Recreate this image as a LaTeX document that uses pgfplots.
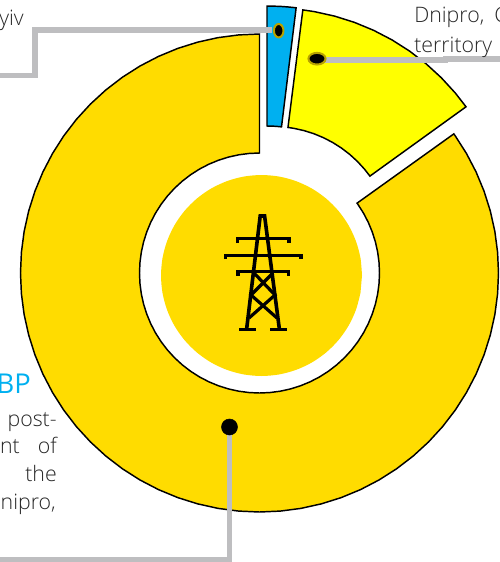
\documentclass[border=0pt]{standalone}
\usepackage{pgfplots}
\usepackage{pgfplotstable}
\usepackage{fontspec}
\setmainfont{Open Sans Light}
\newfontfamily\regfont{Open Sans}
\pgfplotsset{compat=1.18}
\definecolor{gold}{HTML}{FFDC00}
\definecolor{sky}{HTML}{00B0F0}
\definecolor{yel}{HTML}{FFFF00}
\definecolor{lead}{HTML}{BEBEC0}
\definecolor{ring}{HTML}{B8A200}
\definecolor{txt}{HTML}{262626}
\pgfplotstableread[row sep=\\]{a r\\
90 239\\ 95 239\\ 100 239\\ 105 239\\ 110 239\\ 115 239\\ 120 239\\ 125 239\\ 130 239\\ 135 239\\ 140 239\\ 145 239\\ 150 239\\ 155 239\\ 160 239\\ 165 239\\ 170 239\\ 175 239\\ 180 239\\ 185 239\\ 190 239\\ 195 239\\ 200 239\\ 205 239\\ 210 239\\ 215 239\\ 220 239\\ 225 239\\ 230 239\\ 235 239\\ 240 239\\ 245 239\\ 250 239\\ 255 239\\ 260 239\\ 265 239\\ 270 239\\ 275 239\\ 280 239\\ 285 239\\ 290 239\\ 295 239\\ 300 239\\ 305 239\\ 310 239\\ 315 239\\ 320 239\\ 325 239\\ 330 239\\ 335 239\\ 340 239\\ 345 239\\ 350 239\\ 355 239\\ 360 239\\ 365 239\\ 370 239\\ 375 239\\ 380 239\\ 385 239\\ 390 239\\ 395 239\\ 395.6 239\\
395.6 120\\ 395 120\\ 390 120\\ 385 120\\ 380 120\\ 375 120\\ 370 120\\ 365 120\\ 360 120\\ 355 120\\ 350 120\\ 345 120\\ 340 120\\ 335 120\\ 330 120\\ 325 120\\ 320 120\\ 315 120\\ 310 120\\ 305 120\\ 300 120\\ 295 120\\ 290 120\\ 285 120\\ 280 120\\ 275 120\\ 270 120\\ 265 120\\ 260 120\\ 255 120\\ 250 120\\ 245 120\\ 240 120\\ 235 120\\ 230 120\\ 225 120\\ 220 120\\ 215 120\\ 210 120\\ 205 120\\ 200 120\\ 195 120\\ 190 120\\ 185 120\\ 180 120\\ 175 120\\ 170 120\\ 165 120\\ 160 120\\ 155 120\\ 150 120\\ 145 120\\ 140 120\\ 135 120\\ 130 120\\ 125 120\\ 120 120\\ 115 120\\ 110 120\\ 105 120\\ 100 120\\ 95 120\\ 90 120\\
}\goldsector
\pgfplotstableread[row sep=\\]{a r\\
35.8 238\\ 40 238\\ 45 238\\ 50 238\\ 55 238\\ 60 238\\ 65 238\\ 70 238\\ 75 238\\ 80 238\\ 82.8 238\\
82.8 119.5\\ 80 119.5\\ 75 119.5\\ 70 119.5\\ 65 119.5\\ 60 119.5\\ 55 119.5\\ 50 119.5\\ 45 119.5\\ 40 119.5\\ 35.8 119.5\\
}\yellowsector
\pgfplotstableread[row sep=\\]{a r\\
83 239\\ 85 239\\ 87 239\\ 90 239\\
90 119\\ 87 119\\ 85 119\\ 83 119\\
}\bluesector
\pgfplotstableread[row sep=\\]{a r\\
0 100.5\\ 10 100.5\\ 20 100.5\\ 30 100.5\\ 40 100.5\\ 50 100.5\\ 60 100.5\\ 70 100.5\\ 80 100.5\\ 90 100.5\\ 100 100.5\\ 110 100.5\\ 120 100.5\\ 130 100.5\\ 140 100.5\\ 150 100.5\\ 160 100.5\\ 170 100.5\\ 180 100.5\\ 190 100.5\\ 200 100.5\\ 210 100.5\\ 220 100.5\\ 230 100.5\\ 240 100.5\\ 250 100.5\\ 260 100.5\\ 270 100.5\\ 280 100.5\\ 290 100.5\\ 300 100.5\\ 310 100.5\\ 320 100.5\\ 330 100.5\\ 340 100.5\\ 350 100.5\\
}\centredisc
\begin{document}
\begin{tikzpicture}
\path[use as bounding box,clip] (0,0) rectangle (375pt,421.5pt);
\begin{axis}[
  at={(0,0)},anchor=south west,
  scale only axis,width=375pt,height=421.5pt,
  xmin=0,xmax=500,ymin=0,ymax=562,y dir=reverse,
  hide axis,clip=false]
% sectors
\addplot[draw=black,line width=1.1pt,fill=gold,line join=miter,no markers]
  table[x expr=259.5+\thisrow{r}*cos(\thisrow{a}),y expr=273-\thisrow{r}*sin(\thisrow{a})] {\goldsector} -- cycle;
\addplot[draw=black,line width=1.1pt,fill=yel,line join=miter,no markers]
  table[x expr=273+\thisrow{r}*cos(\thisrow{a}),y expr=246-\thisrow{r}*sin(\thisrow{a})] {\yellowsector} -- cycle;
\addplot[draw=black,line width=1.1pt,fill=sky,line join=miter,no markers]
  table[x expr=267+\thisrow{r}*cos(\thisrow{a}),y expr=245-\thisrow{r}*sin(\thisrow{a})] {\bluesector} -- cycle;
% centre disc
\addplot[draw=none,fill=gold,no markers,smooth]
  table[x expr=261.5+\thisrow{r}*cos(\thisrow{a}),y expr=275.5-\thisrow{r}*sin(\thisrow{a})] {\centredisc} -- cycle;
% tower
\pgfplotsset{tower/.style={black,line width=2.7pt,no markers,line join=miter,line cap=butt}}
\addplot[tower] coordinates {(246.7,328.5) (260.2,216) (264.6,216) (279.3,328.5)};
\addplot[tower] coordinates {(239,329.5) (255.7,329.5)};
\addplot[tower] coordinates {(270,329.5) (286.7,329.5)};
\addplot[tower,line width=2.4pt] coordinates {(237.5,243) (237.5,238.5) (289,238.5) (289,243)};
\addplot[tower,line width=2.4pt] coordinates {(225.5,259) (225.5,255.5) (301,255.5) (301,259)};
\addplot[tower,line width=2.4pt] coordinates {(238,275.5) (238,271.5) (288.5,271.5) (288.5,275.5)};
\addplot[tower,line width=2.4pt] coordinates {(254,273) (275,295) (249,318)};
\addplot[tower,line width=2.4pt] coordinates {(273,273) (251,295) (277,318)};
% leaders
\addplot[lead,line width=4pt,no markers,line join=miter] coordinates {(0,75.5) (35,75.5) (35,30) (272,30)};
\addplot[lead,line width=4pt,no markers] coordinates {(322,60) (448,60)};
\addplot[lead,line width=4pt,no markers] coordinates {(443,59) (500,59)};
\addplot[lead,line width=4pt,no markers,line join=miter] coordinates {(229.5,427) (229.5,560) (0,560)};
% dots
\addplot[only marks,mark=*,mark size=6pt,mark options={fill=black,draw=none}] coordinates {(229.5,427)};
\addplot[only marks,mark=*,mark size=4.6pt,mark options={fill=black,draw=ring,line width=1.5pt,xscale=0.78,yscale=1.1}] coordinates {(278.7,30.7)};
\addplot[only marks,mark=*,mark size=4.6pt,mark options={fill=black,draw=ring,line width=1.5pt,xscale=1.4,yscale=0.95}] coordinates {(317,58.7)};
% text
\tikzset{t/.style={font=\fontsize{16}{19}\selectfont,text=txt,inner sep=0pt}}
\node[anchor=base east,t] at (axis cs:24,25) {yiv};
\node[anchor=base west,t] at (axis cs:414,22.7) {Dnipro,};
\node[anchor=base west,t] at (axis cs:494,22.7) {C};
\node[anchor=base west,t] at (axis cs:414,52) {territory};
\node[anchor=base east,font=\regfont\fontsize{20.5}{24}\selectfont,text=sky,inner sep=0pt] at (axis cs:31,393) {BP};
\node[anchor=base east,t] at (axis cs:57,426.5) {post-};
\node[anchor=base east,t] at (axis cs:20,453.5) {nt};
\node[anchor=base east,t] at (axis cs:57,453.5) {of};
\node[anchor=base east,t] at (axis cs:1,481.5) {n};
\node[anchor=base east,t] at (axis cs:57,481.5) {the};
\node[anchor=base east,t] at (axis cs:56,509) {nipro,};
\end{axis}
\end{tikzpicture}
\end{document}
